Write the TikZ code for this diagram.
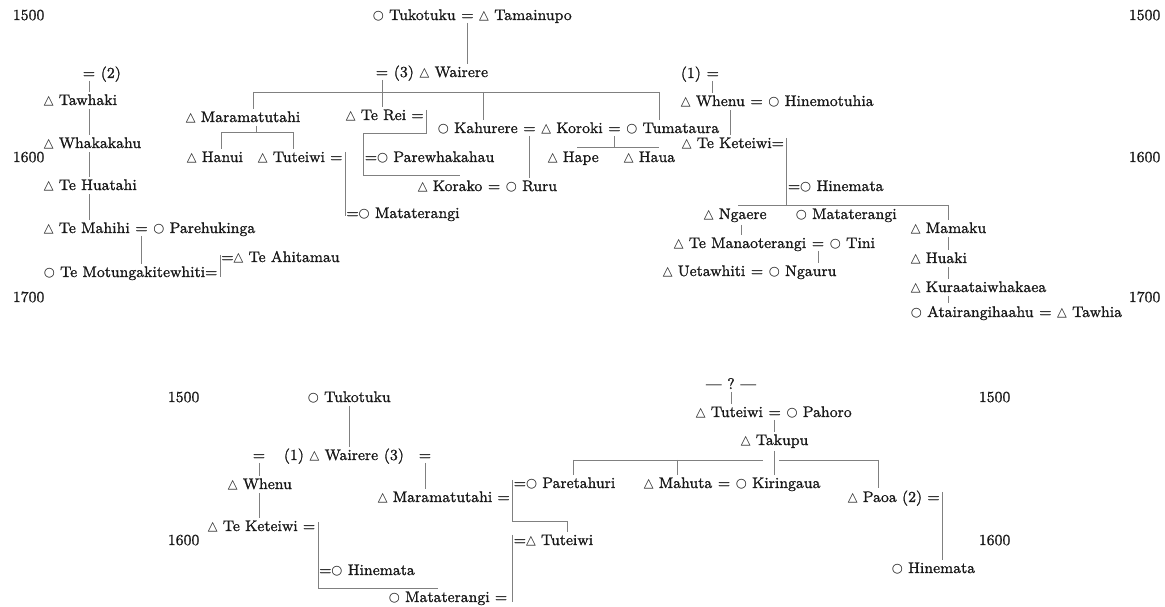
\documentclass[tikz,border=0pt]{standalone}
\usepackage{fontspec}
\setmainfont{Latin Modern Roman}[FakeBold=1.1]
\newfontfamily\symf{DejaVu Sans}
\newcommand\tri{{\symf\fontsize{7.6}{8}\selectfont △}}
\newcommand\cir{{\symf\fontsize{7.6}{8}\selectfont ○}}
\tikzset{
  lbl/.style={anchor=base west, inner sep=1.5pt, font=\fontsize{9.2}{11}\selectfont, text=black!90},
  nx/.style={lbl, at={(#1.base east)}},
  kin/.style={draw=black!50, line width=0.55pt},
}
\begin{document}
\begin{tikzpicture}[x=0.6pt, y=-0.6pt]
\fill[white] (0,0) rectangle (1165,607);
\useasboundingbox (0,0) rectangle (1165,607);

% ---------------- upper chart ----------------
% generation years
\node[lbl] (y1) at (10,20) {1500};
\node[lbl] (y2) at (1126,20) {1500};
\node[lbl] (y3) at (10,162) {1600};
\node[lbl] (y4) at (1126,162) {1600};
\node[lbl] (y5) at (10,302) {1700};
\node[lbl] (y6) at (1126,302) {1700};

% line of the second marriage
\node[lbl] (eqa) at (80,78) {=};
\node[nx=eqa] (two) {(2)};
\node[lbl] (taw) at (41,105) {\tri\ Tawhaki};
\node[lbl] (wha) at (41,148) {\tri\ Whakakahu};
\node[lbl] (hua) at (41,190) {\tri\ Te Huatahi};
\node[lbl] (mah) at (41,233) {\tri\ Te Mahihi};
\node[nx=mah] (mahq) {=};
\node[nx=mahq] (par) {\cir\ Parehukinga};
\node[lbl] (mot) at (41,277) {\cir\ Te Motungakitewhiti=};
\coordinate (motb) at (mot.east |- 0,255);
\node[lbl] (ahi) at ([xshift=-1pt]mot.east |- 0,262) {=\tri\ Te Ahitamau};
\draw[kin] (eqa.south) -- (eqa.south |- taw.north)
           (eqa.south |- taw.south) -- (eqa.south |- wha.north)
           (eqa.south |- wha.south) -- (eqa.south |- hua.north)
           (eqa.south |- hua.south) -- (eqa.south |- mah.north);
\draw[kin] (mahq.south) -- (mahq.south |- mot.north);
\draw[kin] (motb) -- (motb |- mot.base);

% Tukotuku and Tamainupo
\node[lbl] (tuk) at (370,20) {\cir\ Tukotuku};
\node[nx=tuk] (tq) {=};
\node[nx=tq] (tam) {\tri\ Tamainupo};
\node[lbl] (q3) at (373,77) {=};
\node[nx=q3] (n3) {(3)};
\node[nx=n3] (wai) {\tri\ Wairere};
\draw[kin] (tq.south) -- (tq.south |- wai.north);

\coordinate (hL) at (253,92);
\coordinate (hK) at (483,92);
\coordinate (hR) at (659,92);
\draw[kin] (hL) -- (hR);

\node[lbl] (mar) at (183,122) {\tri\ Maramatutahi};
\node[lbl] (terei) at (343,120) {\tri\ Te Rei =};
\draw[kin] (hL) -- (hL |- mar.north);
\draw[kin] (q3.south) -- (q3.south |- terei.north);

% Te Rei and Parewhakahau
\coordinate (tr1) at (terei.east |- 0,110);
\coordinate (tr2) at (terei.east |- 0,133);
\coordinate (tr3) at (363,133);
\coordinate (tr4) at (363,175);
\coordinate (tr5) at (460,175);
\draw[kin] (tr1) -- (tr2) -- (tr3) -- (tr4) -- (tr5);
\node[lbl] (pwh) at (362,162) {=\cir\ Parewhakahau};

% Kahurere, Koroki, Tumataura
\node[lbl] (kah) at (435,133) {\cir\ Kahurere};
\node[nx=kah] (kq1) {=};
\node[nx=kq1] (koro) {\tri\ Koroki};
\node[nx=koro] (kq2) {=};
\node[nx=kq2] (tum) {\cir\ Tumataura};
\draw[kin] (hK) -- (hK |- kah.north);
\draw[kin] (hR) -- (hR |- tum.north);

\node[lbl] (kor) at (415,191) {\tri\ Korako};
\node[nx=kor] (kq) {=};
\node[nx=kq] (ruru) {\cir\ Ruru};
\draw[kin] (kq1.south) -- (kq1.south |- ruru.north);

\coordinate (hpL) at (577,147);
\coordinate (hpR) at (659,147);
\draw[kin] (kq2.south) -- (kq2.south |- hpL);
\draw[kin] (hpL) -- (hpR);
\node[lbl] (hape) at (545,162) {\tri\ Hape};
\node[lbl] (haua) at (621,162) {\tri\ Haua};

% children of Maramatutahi
\node[lbl] (hanui) at (184,162) {\tri\ Hanui};
\node[lbl] (tut) at (255,162) {\tri\ Tuteiwi =};
\coordinate (mC) at (256,132);
\coordinate (mL) at (221,132);
\coordinate (mR) at (293,132);
\draw[kin] (mC |- mar.south) -- (mC);
\draw[kin] (mL |- hanui.north) -- (mL) -- (mR) -- (mR |- tut.north);
\coordinate (tb1) at (tut.east |- 0,152);
\coordinate (tb2) at (tut.east |- 0,216);
\draw[kin] (tb1) -- (tb2);
\node[lbl] (mtr) at ([xshift=-1pt]tut.east |- 0,218) {=\cir\ Mataterangi};

% line of the first marriage
\node[lbl] (one) at (678,78) {(1)};
\node[nx=one] (oq) {=};
\node[lbl] (whe) at (678,106) {\tri\ Whenu};
\node[nx=whe] (wq) {=};
\node[nx=wq] (hmo) {\cir\ Hinemotuhia};
\draw[kin] (oq.south) -- (oq.south |- whe.north);
\node[lbl] (tek) at (679,148) {\tri\ Te Keteiwi=};
\coordinate (wx) at (730,0);
\draw[kin] (wx |- whe.south) -- (wx |- tek.north);
\coordinate (kb1) at (tek.east |- 0,138);
\coordinate (kb2) at (tek.east |- 0,205);
\draw[kin] (kb1) -- (kb2);
\node[lbl] (hmt) at ([xshift=-1pt]tek.east |- 0,191) {=\cir\ Hinemata};
\coordinate (gL) at (738,205);
\coordinate (gR) at (948,205);
\draw[kin] (gL) -- (gR);
\node[lbl] (nga) at (701,219) {\tri\ Ngaere};
\node[lbl] (mat2) at (793,219) {\cir\ Mataterangi};
\node[lbl] (man) at (671,248) {\tri\ Te Manaoterangi};
\node[nx=man] (mq) {=};
\node[nx=mq] (tini) {\cir\ Tini};
\coordinate (ngx) at (741,0);
\draw[kin] (ngx |- nga.south) -- (ngx |- man.north);
\node[lbl] (uet) at (660,276) {\tri\ Uetawhiti};
\node[nx=uet] (uq) {=};
\node[nx=uq] (ngau) {\cir\ Ngauru};
\draw[kin] (mq.south) -- (mq.south |- uet.north);

\node[lbl] (mam) at (908,233) {\tri\ Mamaku};
\node[lbl] (hki) at (908,263) {\tri\ Huaki};
\node[lbl] (kur) at (908,292) {\tri\ Kuraataiwhakaea};
\node[lbl] (ata) at (908,317) {\cir\ Atairangihaahu};
\node[nx=ata] (aq) {=};
\node[nx=aq] (tawh) {\tri\ Tawhia};
\draw[kin] (gR) -- (gR |- mam.north)
           (gR |- mam.south) -- (gR |- hki.north)
           (gR |- hki.south) -- (gR |- kur.north)
           (gR |- kur.south) -- (gR |- ata.north);

% ---------------- lower chart ----------------
\node[lbl] (y7) at (165,402) {1500};
\node[lbl] (y8) at (976,402) {1500};
\node[lbl] (y9) at (165,545) {1600};
\node[lbl] (y10) at (976,545) {1600};

\node[lbl] (tuk2) at (305,402) {\cir\ Tukotuku};
\node[lbl] (bq1) at (250,460) {=};
\node[lbl] (bn1) at (281,460) {(1)};
\node[nx=bn1] (wai2) {\tri\ Wairere};
\node[nx=wai2] (bn3) {(3)};
\node[lbl] (bq3) at (416,460) {=};
\draw[kin] (tuk2.south) -- (tuk2.south |- wai2.north);

\node[lbl] (whe2) at (225,489) {\tri\ Whenu};
\node[lbl] (tek2) at (205,531) {\tri\ Te Keteiwi =};
\draw[kin] (bq1.south) -- (bq1.south |- whe2.north)
           (bq1.south |- whe2.south) -- (bq1.south |- tek2.north);
\coordinate (kc1) at (tek2.east |- 0,522);
\coordinate (kc2) at (tek2.east |- 0,588);
\coordinate (kc3) at (438,588);
\draw[kin] (kc1) -- (kc2) -- (kc3);
\node[lbl] (hmt2) at ([xshift=-1pt]tek2.east |- 0,575) {=\cir\ Hinemata};
\node[lbl] (mat3) at (386,602) {\cir\ Mataterangi =};

\node[lbl] (mar2) at (375,502) {\tri\ Maramatutahi =};
\draw[kin] (bq3.south) -- (bq3.south |- mar2.north);
\coordinate (mb1) at (mar2.east |- 0,480);
\coordinate (mb2) at (mar2.east |- 0,521);
\coordinate (mb3) at (567,521);
\coordinate (mb4) at (mar2.east |- 0,535);
\node[lbl] (ptr) at ([xshift=-1pt]mar2.east |- 0,488) {=\cir\ Paretahuri};
\node[lbl] (tut2) at ([xshift=-1pt]mar2.east |- 0,545) {=\tri\ Tuteiwi};
\draw[kin] (mb1) -- (mb2) -- (mb3) -- (mb3 |- tut2.north);
\draw[kin] (mb4) -- (mb4 |- mat3.base);

% Tuteiwi and Pahoro
\node[lbl] (qm1) at (703,389) {---};
\node[nx=qm1] (qm) {?};
\node[nx=qm] (qm2) {---};
\node[lbl] (tut3) at (693,417) {\tri\ Tuteiwi};
\node[nx=tut3] (tpq) {=};
\node[nx=tpq] (pah) {\cir\ Pahoro};
\draw[kin] (qm.south) -- (qm.south |- tut3.north);
\node[lbl] (tak) at (738,445) {\tri\ Takupu};
\draw[kin] (tpq.south) -- (tpq.south |- tak.north);

\node[lbl] (mah2) at (641,488) {\tri\ Mahuta};
\node[nx=mah2] (mhq) {=};
\node[nx=mhq] (kir) {\cir\ Kiringaua};
\node[lbl] (paoa) at (845,502) {\tri\ Paoa (2) =};
\node[lbl] (hin3) at (889,573) {\cir\ Hinemata};

\coordinate (sA) at (573,460);
\coordinate (sM) at (677,460);
\coordinate (sB) at (763,460);
\coordinate (sC) at (779,460);
\coordinate (sD) at (878,460);
\draw[kin] (sA) -- (sB) (sC) -- (sD);
\draw[kin] (sA) -- (sA |- ptr.north);
\draw[kin] (sM) -- (sM |- mah2.north);
\draw[kin] (sD) -- (sD |- paoa.north);
\draw[kin] (tak.south) -- (tak.south |- kir.north);
\coordinate (pb1) at (paoa.east |- 0,492);
\draw[kin] (pb1) -- (pb1 |- hin3.north);
\end{tikzpicture}
\end{document}
